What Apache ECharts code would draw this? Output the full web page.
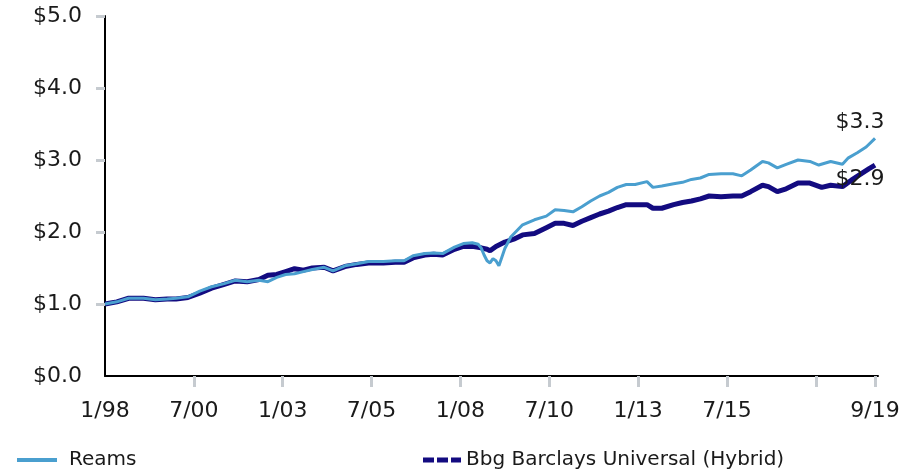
<!DOCTYPE html>
<html>
<head>
<meta charset="utf-8">
<script src="https://cdn.jsdelivr.net/npm/echarts@6/dist/echarts.min.js"></script>
<style>
  html, body { margin: 0; padding: 0; background: #ffffff; }
  #chart { width: 917px; height: 474px; }
</style>
</head>
<body>
<div id="chart"></div>
<script>
// Growth of $1, months counted from January 1998
const reamsMonths = [0,4,8,13,17,21,24,28,32,36,40,44,48,52,55,58,61,64,67,70,74,77,81,85,89,94,98,101,104,108,111,114,118,121,124,126,127,128,129,130,131,132,133,134,135,137,141,145,149,152,155,158,161,164,167,170,173,176,179,183,185,188,192,195,198,201,204,208,212,215,218,222,224,227,230,234,238,241,245,249,251,254,257,260];
const reamsValues = [1.00,1.03,1.08,1.08,1.06,1.07,1.08,1.10,1.18,1.24,1.28,1.33,1.31,1.33,1.31,1.37,1.41,1.42,1.45,1.48,1.51,1.46,1.53,1.56,1.59,1.59,1.60,1.60,1.67,1.70,1.71,1.70,1.79,1.84,1.85,1.83,1.78,1.68,1.60,1.57,1.63,1.60,1.53,1.65,1.77,1.93,2.10,2.17,2.22,2.31,2.30,2.28,2.35,2.43,2.50,2.55,2.62,2.66,2.66,2.70,2.62,2.64,2.67,2.69,2.73,2.75,2.80,2.81,2.81,2.78,2.86,2.98,2.96,2.89,2.94,3.00,2.98,2.93,2.98,2.94,3.03,3.10,3.18,3.30];

const bbgMonths = [0,4,8,13,17,21,24,28,32,36,40,44,48,52,55,58,61,64,67,70,74,77,81,85,89,94,98,101,104,108,111,114,118,121,124,127,129,130,132,135,138,141,145,149,152,155,158,161,164,167,170,173,176,179,183,185,188,192,195,198,201,204,208,212,215,218,222,224,227,230,234,238,242,245,249,252,255,258,260];
const bbgValues = [1.00,1.03,1.08,1.08,1.06,1.07,1.07,1.09,1.15,1.22,1.27,1.32,1.31,1.34,1.40,1.41,1.45,1.49,1.47,1.50,1.51,1.46,1.52,1.55,1.57,1.57,1.58,1.58,1.64,1.68,1.69,1.68,1.76,1.80,1.80,1.78,1.76,1.74,1.80,1.86,1.90,1.96,1.98,2.06,2.12,2.12,2.09,2.15,2.20,2.25,2.29,2.34,2.38,2.38,2.38,2.33,2.33,2.38,2.41,2.43,2.46,2.50,2.49,2.50,2.50,2.56,2.65,2.63,2.56,2.60,2.68,2.68,2.62,2.65,2.63,2.72,2.80,2.88,2.93];

// Tick marks every 30 months plus the final month; labels skip 1/18
const tickMonths = [30,60,90,120,150,180,210,240,260];
const labelMonths = [0,30,60,90,120,150,180,210,260];
const tickLabels = ['1/98','7/00','1/03','7/05','1/08','7/10','1/13','7/15','9/19'];

const yTicks = [1,2,3,4,5];

const seriesNames = ['Reams', 'Bbg Barclays Universal (Hybrid)'];
const endLabels = ['$3.3', '$2.9'];

const FONT = '"DejaVu Sans", sans-serif';
const TEXT = '#1a1a1a';
const LIGHT = '#4A9FCF';
const DARK = '#130B80';
const TICK = '#c6cbd0';

function pairs(months, values) {
  return months.map((m, i) => [m, values[i]]);
}

const chart = echarts.init(document.getElementById('chart'), null, { renderer: 'canvas' });

chart.setOption({
  animation: false,
  backgroundColor: '#ffffff',
  grid: { left: 105, right: 39, top: 16, bottom: 98, containLabel: false },
  legend: [
    {
      data: [{ name: seriesNames[0], icon: 'rect' }],
      left: 12, top: 445,
      itemWidth: 40, itemHeight: 4,
      textStyle: { fontFamily: FONT, fontSize: 20, color: TEXT, padding: [0, 0, 0, 7] },
      selectedMode: false
    },
    {
      data: [{ name: seriesNames[1], icon: 'path://M0,0h11v5h-11z M14,0h11v5h-11z M28,0h10v5h-10z' }],
      left: 418, top: 445,
      itemWidth: 38, itemHeight: 5,
      textStyle: { fontFamily: FONT, fontSize: 20, color: TEXT, padding: [0, 0, 0, 0] },
      selectedMode: false
    }
  ],
  xAxis: [
    {
      type: 'value', min: 0, max: 261,
      axisLine: { show: true, onZero: false, lineStyle: { color: '#000000', width: 2 } },
      axisTick: { show: false },
      splitLine: { show: false },
      axisLabel: {
        show: true,
        customValues: labelMonths,
        margin: 24,
        fontFamily: FONT, fontSize: 22, color: TEXT,
        formatter: v => {
          const i = labelMonths.indexOf(v);
          return i >= 0 ? tickLabels[i] : '';
        }
      }
    },
    {
      type: 'value', min: 0, max: 261, position: 'bottom', offset: 2,
      axisLine: { show: false },
      axisLabel: { show: false },
      splitLine: { show: false },
      axisTick: { show: true, customValues: tickMonths, length: 11, lineStyle: { color: TICK, width: 3 } }
    }
  ],
  yAxis: [
    {
      type: 'value', min: 0, max: 5, interval: 1,
      axisLine: { show: true, lineStyle: { color: '#000000', width: 2 } },
      axisTick: { show: false },
      splitLine: { show: false },
      axisLabel: { show: false }
    },
    {
      type: 'value', min: 0, max: 5, interval: 1, position: 'left', offset: 3,
      axisLine: { show: false },
      splitLine: { show: false },
      axisTick: { show: true, customValues: yTicks, length: 9, lineStyle: { color: TICK, width: 3 } },
      axisLabel: {
        margin: 20, fontFamily: FONT, fontSize: 22, color: TEXT,
        formatter: v => '$' + v.toFixed(1)
      }
    }
  ],
  series: [
    {
      name: seriesNames[0], type: 'line', z: 3,
      showSymbol: false, symbol: 'none',
      lineStyle: { color: LIGHT, width: 3 },
      itemStyle: { color: LIGHT },
      endLabel: {
        show: true, formatter: endLabels[0],
        align: 'center', verticalAlign: 'bottom', offset: [-23, -5],
        fontFamily: FONT, fontSize: 22, color: TEXT
      },
      data: pairs(reamsMonths, reamsValues)
    },
    {
      name: seriesNames[1], type: 'line', z: 2,
      showSymbol: false, symbol: 'none',
      lineStyle: { color: DARK, width: 5 },
      itemStyle: { color: DARK },
      endLabel: {
        show: true, formatter: endLabels[1],
        align: 'center', verticalAlign: 'top', offset: [-23, 3],
        fontFamily: FONT, fontSize: 22, color: TEXT
      },
      data: pairs(bbgMonths, bbgValues)
    }
  ]
});
</script>
</body>
</html>
